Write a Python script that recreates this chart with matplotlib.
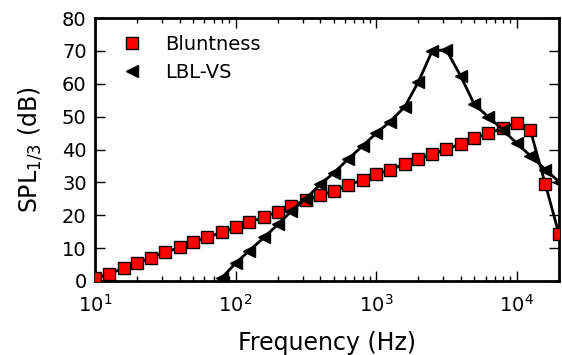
import matplotlib
matplotlib.use("Agg")
import matplotlib.pyplot as plt
import numpy as np

freq = [10, 12.5, 16, 20, 25, 31.5, 40, 50, 63, 80, 100, 125, 160, 200, 250, 315,
        400, 500, 630, 800, 1000, 1250, 1600, 2000, 2500, 3150, 4000, 5000, 6300,
        8000, 10000, 12500, 16000, 20000]
bluntness = [0.8, 2.1, 3.9, 5.4, 7.1, 8.7, 10.2, 11.8, 13.3, 14.8, 16.3, 17.8, 19.5,
             21.1, 22.9, 24.5, 26.1, 27.4, 29.2, 30.7, 32.4, 33.8, 35.6, 37.1, 38.6,
             40.1, 41.7, 43.4, 44.9, 46.6, 48.2, 45.9, 29.4, 14.2]
lbl_freq = [80, 100, 125, 160, 200, 250, 315, 400, 500, 630, 800, 1000, 1250, 1600,
            2000, 2500, 3150, 4000, 5000, 6300, 8000, 10000, 12500, 16000, 20000]
lbl_vs = [1.0, 5.4, 9.2, 13.3, 17.2, 21.3, 25.0, 29.4, 32.9, 37.0, 41.1, 44.9, 48.4,
          53.0, 60.6, 69.9, 70.4, 62.3, 53.7, 49.9, 45.9, 41.9, 38.1, 33.9, 30.2]

plt.rcParams['xtick.direction'] = 'in'
plt.rcParams['ytick.direction'] = 'in'
plt.rcParams['font.family'] = ['DejaVu Sans']
plt.rcParams['mathtext.fontset'] = 'dejavusans'

fig = plt.figure(figsize=(5.62, 3.55), dpi=100)
ax = fig.add_axes([95/562, 1-281/355, (559-95)/562, (281-18)/355])

ax.plot(freq, bluntness, '-', color='black', lw=2, zorder=2)
ax.plot(freq, bluntness, 's', mfc='#ff0000', mec='black', mew=1, ms=8,
        label='Bluntness', zorder=3)
ax.plot(lbl_freq, lbl_vs, '-', color='black', lw=2, zorder=4)
ax.plot(lbl_freq, lbl_vs, '<', mfc='black', mec='black', ms=8, label='LBL-VS', zorder=5)

ax.set_xscale('log')
ax.set_xlim(10, 2e4)
ax.set_ylim(0, 80)
ax.set_yticks(np.arange(0, 81, 10))
ax.tick_params(which='major', length=7, width=1, labelsize=14, top=True, right=True)
ax.tick_params(axis='x', which='major', pad=9.5)
ax.tick_params(axis='y', which='major', pad=6)
ax.tick_params(which='minor', length=3.3, width=1, top=True, right=True)
for s in ax.spines.values():
    s.set_linewidth(2)

ax.set_xlabel('Frequency (Hz)', fontsize=17, labelpad=11)
ax.set_ylabel('SPL$_{1/3}$ (dB)', fontsize=17, labelpad=12)

ax.legend(loc='upper left', frameon=False, numpoints=1, fontsize=14,
          handlelength=2, handletextpad=0.7, borderaxespad=0.5, labelspacing=0.48,
          bbox_to_anchor=(0, 1.003))

fig.savefig('out.png', dpi=100)
